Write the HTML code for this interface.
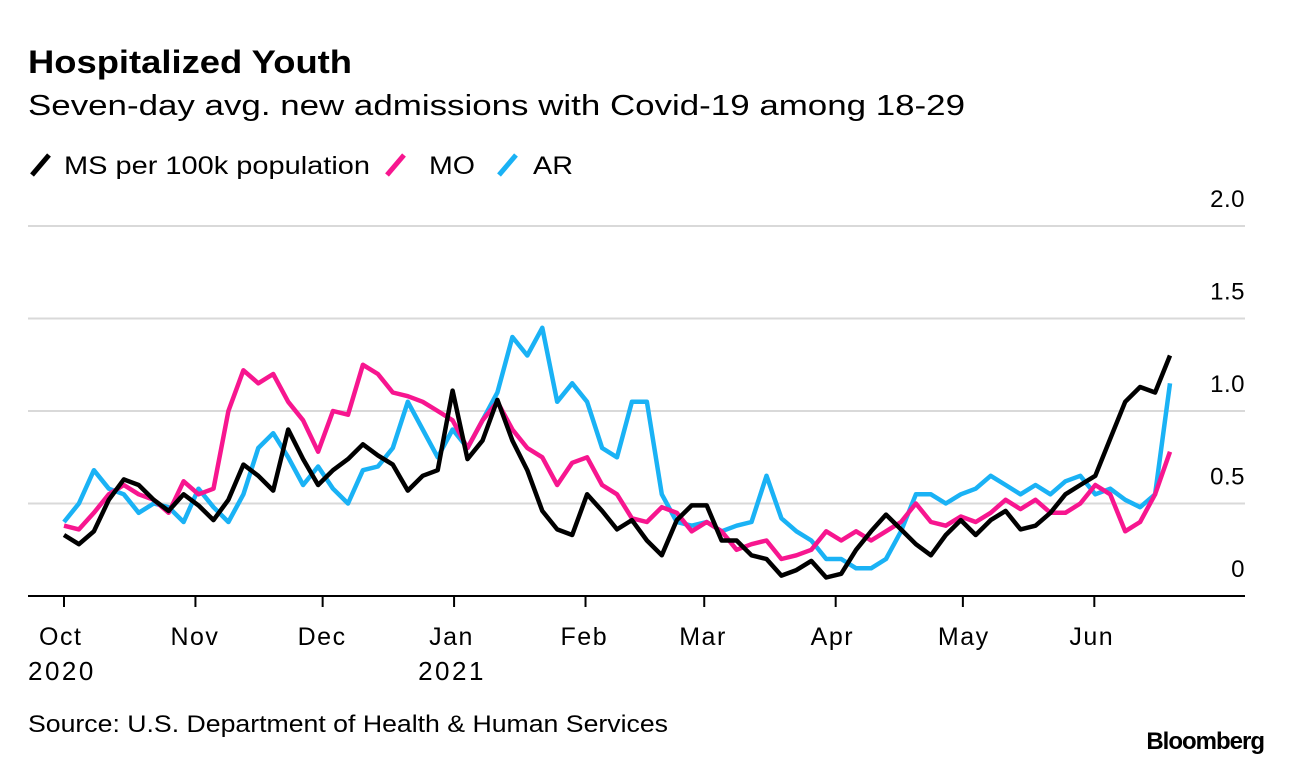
<!DOCTYPE html>
<html><head><meta charset="utf-8"><style>
body{margin:0;background:#fff;}
svg{display:block;font-family:"Liberation Sans",sans-serif;}
</style></head><body>
<svg id="chart" width="1292" height="764" viewBox="0 0 1292 764">
<text x="28" y="73" font-size="32" font-weight="bold" fill="#000" textLength="324" lengthAdjust="spacingAndGlyphs">Hospitalized Youth</text>
<text x="28" y="115" font-size="29" fill="#000" textLength="937" lengthAdjust="spacingAndGlyphs">Seven-day avg. new admissions with Covid-19 among 18-29</text>
<g>
<line x1="32" y1="175" x2="49" y2="155" stroke="#000" stroke-width="5"/>
<text x="64" y="174" font-size="25" textLength="306" lengthAdjust="spacingAndGlyphs">MS per 100k population</text>
<line x1="387" y1="175" x2="404" y2="155" stroke="#f7168f" stroke-width="5"/>
<text x="429" y="174" font-size="25" textLength="46" lengthAdjust="spacingAndGlyphs">MO</text>
<line x1="499" y1="175" x2="516" y2="155" stroke="#1ab2f5" stroke-width="5"/>
<text x="533" y="174" font-size="25" textLength="40" lengthAdjust="spacingAndGlyphs">AR</text>
</g>
<g id="grid"></g>
<g id="series"></g>
<g id="xaxis"></g>
<text x="28" y="732" font-size="24" textLength="640" lengthAdjust="spacingAndGlyphs">Source: U.S. Department of Health &amp; Human Services</text>
<text x="1264" y="749" font-size="24" font-weight="bold" text-anchor="end" letter-spacing="-1">Bloomberg</text>
</svg>
<script>
const yTicks=[0,0.5,1.0,1.5,2.0];
const yTickLabels=["0","0.5","1.0","1.5","2.0"];
const monthDays=[0,31,61,92,123,151,182,212,243];
const monthLabels=["Oct","Nov","Dec","Jan","Feb","Mar","Apr","May","Jun"];
const yearLabels=["2020","","","2021","","","","",""];
const dayStep=3.525;
const msValues=[0.33,0.28,0.35,0.52,0.63,0.6,0.52,0.46,0.55,0.49,0.41,0.52,0.71,0.65,0.57,0.9,0.74,0.6,0.68,0.74,0.82,0.76,0.71,0.57,0.65,0.68,1.11,0.74,0.84,1.06,0.84,0.68,0.46,0.36,0.33,0.55,0.46,0.36,0.41,0.30,0.22,0.41,0.49,0.49,0.30,0.30,0.22,0.2,0.11,0.14,0.19,0.1,0.12,0.25,0.35,0.44,0.36,0.28,0.22,0.33,0.41,0.33,0.41,0.46,0.36,0.38,0.45,0.55,0.6,0.65,0.85,1.05,1.13,1.1,1.3];
const moValues=[0.38,0.36,0.45,0.55,0.6,0.55,0.52,0.45,0.62,0.55,0.58,1.0,1.22,1.15,1.2,1.05,0.95,0.78,1.0,0.98,1.25,1.2,1.1,1.08,1.05,1.0,0.95,0.8,0.95,1.05,0.9,0.8,0.75,0.6,0.72,0.75,0.6,0.55,0.42,0.4,0.48,0.45,0.35,0.4,0.35,0.25,0.28,0.3,0.2,0.22,0.25,0.35,0.3,0.35,0.3,0.35,0.4,0.5,0.4,0.38,0.43,0.4,0.45,0.52,0.47,0.52,0.45,0.45,0.5,0.6,0.55,0.35,0.4,0.55,0.78];
const arValues=[0.4,0.5,0.68,0.58,0.55,0.45,0.5,0.48,0.4,0.58,0.48,0.4,0.55,0.8,0.88,0.75,0.6,0.7,0.58,0.5,0.68,0.7,0.8,1.05,0.9,0.75,0.9,0.8,0.95,1.1,1.4,1.3,1.45,1.05,1.15,1.05,0.8,0.75,1.05,1.05,0.55,0.4,0.38,0.4,0.35,0.38,0.4,0.65,0.42,0.35,0.3,0.2,0.2,0.15,0.15,0.2,0.35,0.55,0.55,0.5,0.55,0.58,0.65,0.6,0.55,0.6,0.55,0.62,0.65,0.55,0.58,0.52,0.48,0.55,1.15];

const NS="http://www.w3.org/2000/svg";
const xS=d=>64+d*4.24;
const yS=v=>596-v*185;
const grid=document.getElementById('grid');
yTicks.forEach((t,i)=>{
  if(t>0){
    const l=document.createElementNS(NS,'line');
    l.setAttribute('x1',28);l.setAttribute('x2',1245);
    l.setAttribute('y1',yS(t));l.setAttribute('y2',yS(t));
    l.setAttribute('stroke','#d9d9d9');l.setAttribute('stroke-width',2);
    
    
    grid.appendChild(l);
  }
  const tx=document.createElementNS(NS,'text');
  tx.setAttribute('x',1245);tx.setAttribute('y',yS(t)-19);
  tx.setAttribute('text-anchor','end');tx.setAttribute('font-size','24');
  tx.setAttribute('letter-spacing','0.5');
  tx.textContent=yTickLabels[i];
  
  
  grid.appendChild(tx);
});
const ser=document.getElementById('series');
[[msValues,'#000','series-ms'],[moValues,'#f7168f','series-mo'],[arValues,'#1ab2f5','series-ar']].reverse().forEach(s=>{
  const p=document.createElementNS(NS,'polyline');
  p.setAttribute('points',s[0].map((v,i)=>xS(i*dayStep).toFixed(1)+','+yS(v).toFixed(1)).join(' '));
  p.setAttribute('fill','none');p.setAttribute('stroke',s[1]);p.setAttribute('stroke-width',4.5);
  p.setAttribute('stroke-linejoin','round');
  
  
  ser.appendChild(p);
});
const xa=document.getElementById('xaxis');
const base=document.createElementNS(NS,'line');
base.setAttribute('x1',28);base.setAttribute('x2',1245);base.setAttribute('y1',596);base.setAttribute('y2',596);
base.setAttribute('stroke','#000');base.setAttribute('stroke-width',2);


xa.appendChild(base);
monthDays.forEach((d,i)=>{
  const t=document.createElementNS(NS,'line');
  t.setAttribute('x1',xS(d));t.setAttribute('x2',xS(d));t.setAttribute('y1',596);t.setAttribute('y2',607);
  t.setAttribute('stroke','#000');t.setAttribute('stroke-width',2);
  
  
  xa.appendChild(t);
  const tx=document.createElementNS(NS,'text');
  tx.setAttribute('x',xS(d)-25);tx.setAttribute('y',645);tx.setAttribute('font-size','25');
  tx.setAttribute('letter-spacing','1.5');
  tx.textContent=monthLabels[i];
  
  
  xa.appendChild(tx);
  if(yearLabels[i]){
    const yr=document.createElementNS(NS,'text');
    yr.setAttribute('x',xS(d)-36);yr.setAttribute('y',680);yr.setAttribute('font-size','26');
    yr.setAttribute('letter-spacing','2.5');
    yr.textContent=yearLabels[i];
    
    
    xa.appendChild(yr);
  }
});
</script>
</body></html>
